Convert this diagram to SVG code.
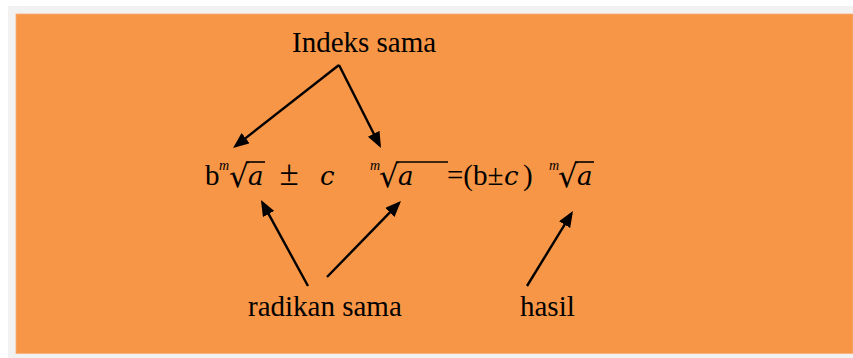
<svg xmlns="http://www.w3.org/2000/svg" width="853" height="358" viewBox="0 0 853 358">
<defs>
<style>
.lbl{font-family:"Liberation Serif","Times New Roman",serif;font-size:29px;fill:#000}
.mt{font-family:"Liberation Serif","Times New Roman",serif;font-size:29px;fill:#000}
.it{font-family:"DejaVu Serif",serif;font-style:italic;font-size:26px;fill:#000}
.sup{font-family:"Liberation Serif","Times New Roman",serif;font-style:italic;font-size:14px;fill:#000}
.rad{font-family:"DejaVu Serif",serif;font-size:31px;fill:#000}
.vin{stroke:#000;stroke-width:1.6;fill:none}
.arr{stroke:#000;stroke-width:2.4;fill:none;marker-end:url(#ah)}
</style>
<marker id="ah" markerUnits="userSpaceOnUse" markerWidth="18" markerHeight="14" refX="13" refY="6.5" orient="auto">
<path d="M0,0 L16,6.5 L0,13 z" fill="#000"/>
</marker>
</defs>
<rect x="0" y="0" width="853" height="358" fill="#ffffff"/>
<rect x="8" y="6" width="845" height="352" fill="#f2f2f2"/>
<rect x="16" y="14" width="837" height="339.5" fill="#f79646" stroke="#f9b07a" stroke-width="0.8"/>

<g id="label-indeks"><text class="lbl" x="292" y="52">Indeks sama</text></g>
<g id="label-radikan"><text class="lbl" x="248" y="316">radikan sama</text></g>
<g id="label-hasil"><text class="lbl" x="520" y="316">hasil</text></g>

<g id="formula">
<text class="mt" x="205" y="185">b</text>
<text class="sup" x="219" y="170">m</text>
<text class="rad" x="229" y="187">√</text>
<line class="vin" x1="246" y1="162" x2="265" y2="162"/>
<text class="it" x="248" y="185">a</text>
<text class="mt" x="289" y="185" text-anchor="middle" style="font-size:35px">±</text>
<text class="it" x="320" y="185">c</text>
<text class="sup" x="370" y="170">m</text>
<text class="rad" x="379" y="187">√</text>
<line class="vin" x1="396" y1="162" x2="448" y2="162"/>
<text class="it" x="398" y="185">a</text>
<text class="mt" x="447" y="185">=(b±</text>
<text class="it" x="504" y="185">c</text>
<text class="mt" x="523" y="185">)</text>
<text class="sup" x="549" y="170">m</text>
<text class="rad" x="558" y="187">√</text>
<line class="vin" x1="575" y1="162" x2="594" y2="162"/>
<text class="it" x="577" y="185">a</text>
</g>

<g id="connectors">
<line class="arr" x1="339" y1="65" x2="235.4" y2="146.1"/>
<line class="arr" x1="339" y1="65" x2="379.6" y2="145.3"/>
<line class="arr" x1="308" y1="286" x2="262.4" y2="202.6"/>
<line class="arr" x1="327" y1="277" x2="398.9" y2="203.2"/>
<line class="arr" x1="527" y1="286" x2="571.4" y2="213.6"/>
</g>
</svg>
